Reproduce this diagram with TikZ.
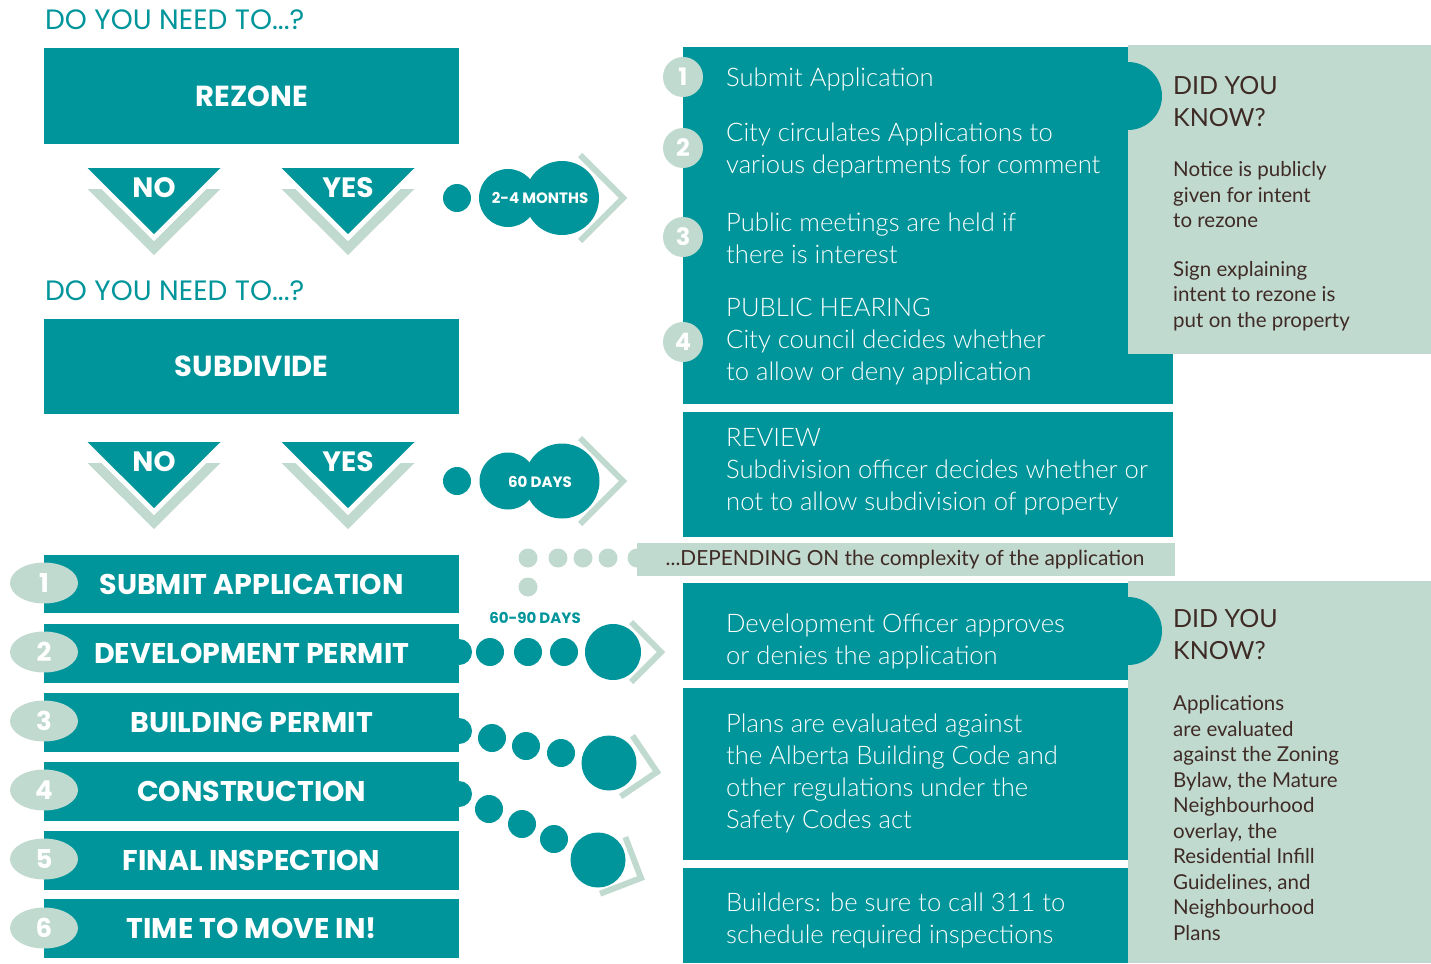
\documentclass[tikz,border=0pt]{standalone}
\usepackage{fontspec}
\usepackage{xcolor}
\usepackage{tikz}
\usetikzlibrary{positioning}
\usetikzlibrary{shapes.geometric}
\setmainfont{Lato Light}
\newfontfamily\notefont{Lato}
\newfontfamily\headfont{Poppins}
\definecolor{cityteal}{rgb}{0.0, 0.584, 0.604}
\definecolor{sage}{rgb}{0.757, 0.855, 0.816}
\definecolor{bark}{rgb}{0.243, 0.169, 0.145}
\tikzset{%
  tealbox/.style={rectangle,fill=cityteal,anchor=north west,inner sep=0pt}
}
\tikzset{%
  sagebox/.style={rectangle,fill=sage,anchor=north west,inner sep=0pt}
}
\tikzset{%
  asktext/.style={font=\headfont\fontsize{28}{30}\selectfont,text=cityteal,anchor=base west,inner sep=0pt},
  bigword/.style={font=\headfont\bfseries\fontsize{#1}{#1}\selectfont,text=white,inner sep=0pt},
  bodytext/.style={font=\fontsize{25.6}{32}\selectfont,text=white,align=left,anchor=west,inner sep=0pt},
  knowtext/.style={font=\notefont\fontsize{25}{32}\selectfont,text=bark,align=left,anchor=west,inner sep=0pt},
  notetext/.style={font=\notefont\fontsize{20.5}{25.5}\selectfont,text=bark,align=left,anchor=west,inner sep=0pt},
  stepdot/.style={circle,fill=sage,minimum size=40pt,inner sep=0pt,font=\headfont\bfseries\fontsize{24}{24}\selectfont,text=white},
  listdot/.style={ellipse,fill=sage,minimum width=68pt,minimum height=41pt,inner sep=0pt,font=\headfont\bfseries\fontsize{26}{26}\selectfont,text=white},
  tealdot/.style={circle,fill=cityteal,inner sep=0pt,minimum size=#1},
  chevline/.style={draw=sage,line width=6pt,line join=miter,miter limit=10}
}
\newcommand\answer[4]{% top centre x, top y, word, name
  \begin{scope}[shift={(#1,#2)}]
    \fill[sage] (-66.5,21) -- (66.5,21) -- (0,87) -- cycle;
    \fill[white] (-66.5,7) -- (66.5,7) -- (0,73) -- cycle;
    \fill[cityteal] (-66.5,0) -- (66.5,0) -- (0,66) -- cycle;
    \node[bigword=28] (#4) at (0,20) {#3};
  \end{scope}
}
\newcommand\chevron[4]{% apex x, apex y, turn, arm
  \begin{scope}[shift={(#1,#2)},rotate=#3]
    \draw[chevline] (-#4,-#4) -- (0,0) -- (-#4,#4);
  \end{scope}
}

\begin{document}
\begin{tikzpicture}[x=1pt,y=-1pt]
  \useasboundingbox (0,0) rectangle (1431,963);

  % rezone question
  \node[asktext] (askA) at (45,30) {DO YOU NEED TO...?};
  \node[tealbox,minimum width=415pt,minimum height=96pt,bigword=29] (rezone) at (44,48) {REZONE};
  \answer{154}{168}{NO}{noA}
  \answer{348}{168}{YES}{yesA}
  \fill[cityteal] (457,198) circle (14pt);
  \node[tealdot=58pt] (monthsL) at (508,198) {};
  \node[tealdot=74pt] (monthsR) at (562,198) {};
  \node[bigword=15] (months) at (540,198) {2-4 MONTHS};
  \chevron{623}{198}{0}{43}

  % subdivide question
  \node[asktext] (askB) at (45,300) {DO YOU NEED TO...?};
  \node[tealbox,minimum width=415pt,minimum height=95pt,bigword=29] (subdivide) at (44,319) {SUBDIVIDE};
  \answer{154}{442}{NO}{noB}
  \answer{348}{442}{YES}{yesB}
  \fill[cityteal] (457,481) circle (14pt);
  \node[tealdot=57pt] (daysL) at (508,481) {};
  \node[tealdot=75pt] (daysR) at (562,481) {};
  \node[bigword=15] (days) at (540,482) {60 DAYS};
  \chevron{623}{481}{0}{43}

  % rezoning steps
  \node[tealbox,minimum width=490pt,minimum height=357pt] (rezonesteps) at (683,47) {};
  \node[sagebox,minimum width=303pt,minimum height=309pt] (knowA) at (1128,45) {};
  \fill[cityteal] (1128,62) arc[start angle=90,end angle=-90,radius=34pt] -- cycle;
  \node[stepdot] (stepA1) at (683,77) {1};
  \node[stepdot] (stepA2) at (683,148) {2};
  \node[stepdot] (stepA3) at (683,237) {3};
  \node[stepdot] (stepA4) at (683,342) {4};
  \node[bodytext] (stepA1text) at (726,79) {Submit Application};
  \node[bodytext] (stepA2text) at (726,150) {City circulates Applications to\\various departments for comment};
  \node[bodytext] (stepA3text) at (726,238) {Public meetings are held if\\there is interest};
  \node[bodytext] (stepA4text) at (726,342) {PUBLIC HEARING\\City council decides whether\\to allow or deny application};
  \node[knowtext] (knowAhead) at (1173,102) {DID YOU\\KNOW?};
  \node[notetext] (knowAnote1) at (1173,195) {Notice is publicly\\given for intent\\to rezone};
  \node[notetext] (knowAnote2) at (1173,296) {Sign explaining\\intent to rezone is\\put on the property};

  % subdivision review
  \node[tealbox,minimum width=490pt,minimum height=125pt] (review) at (683,412) {};
  \node[bodytext] (reviewtext) at (726,472) {REVIEW\\Subdivision officer decides whether or\\not to allow subdivision of property};

  % depending on
  \fill[sage] (528,558) circle (9.5pt);
  \fill[sage] (558,558) circle (9.5pt);
  \fill[sage] (583,558) circle (9.5pt);
  \fill[sage] (608,558) circle (9.5pt);
  \fill[sage] (637,558) circle (9.5pt);
  \fill[sage] (528,587) circle (9.5pt);
  \node[sagebox,minimum width=538pt,minimum height=33pt] (depend) at (637,543) {};
  \node[font=\notefont\fontsize{20.8}{24}\selectfont,text=bark,inner sep=0pt] (dependtext) at (905,560) {...DEPENDING ON the complexity of the application};

  % permit list
  \node[tealbox,minimum width=415pt,minimum height=58pt,bigword=28.5] (submit) at (44,555) {SUBMIT APPLICATION};
  \node[tealbox,minimum width=415pt,minimum height=59pt,bigword=28.5] (devpermit) at (44,624) {DEVELOPMENT PERMIT};
  \node[tealbox,minimum width=415pt,minimum height=59pt,bigword=28.5] (buildpermit) at (44,693) {BUILDING PERMIT};
  \node[tealbox,minimum width=415pt,minimum height=59pt,bigword=28.5] (construct) at (44,762) {CONSTRUCTION};
  \node[tealbox,minimum width=415pt,minimum height=59pt,bigword=28.5] (inspect) at (44,831) {FINAL INSPECTION};
  \node[tealbox,minimum width=415pt,minimum height=59pt,bigword=28.5] (movein) at (44,899) {TIME TO MOVE IN!};
  \node[listdot] (num1) at (44,583) {1};
  \node[listdot] (num2) at (44,652) {2};
  \node[listdot] (num3) at (44,721) {3};
  \node[listdot] (num4) at (44,790) {4};
  \node[listdot] (num5) at (44,859) {5};
  \node[listdot] (num6) at (44,928) {6};

  % dotted paths to the permit boxes
  \fill[cityteal] (459,639) arc[start angle=90,end angle=-90,radius=13pt] -- cycle;
  \fill[cityteal] (459,718) arc[start angle=90,end angle=-90,radius=13pt] -- cycle;
  \fill[cityteal] (459,781) arc[start angle=90,end angle=-90,radius=13pt] -- cycle;
  \node[font=\headfont\bfseries\fontsize{15}{15}\selectfont,text=cityteal,inner sep=0pt] (ninety) at (535,618) {60-90 DAYS};
  \fill[cityteal] (490,652) circle (14pt);
  \fill[cityteal] (528,652) circle (14pt);
  \fill[cityteal] (564,652) circle (14pt);
  \node[tealdot=56pt] (devdot) at (613,652) {};
  \chevron{661}{652}{0}{30}
  \fill[cityteal] (492,738) circle (14pt);
  \fill[cityteal] (526,746) circle (14pt);
  \fill[cityteal] (561,753) circle (14pt);
  \node[tealdot=55pt] (builddot) at (609,763) {};
  \chevron{657}{772}{-11}{31}
  \fill[cityteal] (489,809) circle (14pt);
  \fill[cityteal] (522,824) circle (14pt);
  \fill[cityteal] (554,839) circle (14pt);
  \node[tealdot=55pt] (constructdot) at (598,860) {};
  \chevron{641}{878}{-24}{31}

  % permit steps
  \node[tealbox,minimum width=445pt,minimum height=97pt] (devoffice) at (683,583) {};
  \node[tealbox,minimum width=445pt,minimum height=172pt] (plans) at (683,688) {};
  \node[tealbox,minimum width=445pt,minimum height=95pt] (builders) at (683,868) {};
  \node[sagebox,minimum width=303pt,minimum height=382pt] (knowB) at (1128,581) {};
  \fill[cityteal] (1128,597) arc[start angle=90,end angle=-90,radius=34pt] -- cycle;
  \node[bodytext] (devofficetext) at (726,641) {Development Officer approves\\or denies the application};
  \node[bodytext] (planstext) at (726,773) {Plans are evaluated against\\the Alberta Building Code and\\other regulations under the\\Safety Codes act};
  \node[bodytext] (builderstext) at (726,920) {Builders: be sure to call 311 to\\schedule required inspections};
  \node[knowtext] (knowBhead) at (1173,635) {DID YOU\\KNOW?};
  \node[notetext] (knowBnote) at (1173,818) {Applications\\are evaluated\\against the Zoning\\Bylaw, the Mature\\Neighbourhood\\overlay, the\\Residential Infill\\Guidelines, and\\Neighbourhood\\Plans};
\end{tikzpicture}
\end{document}
